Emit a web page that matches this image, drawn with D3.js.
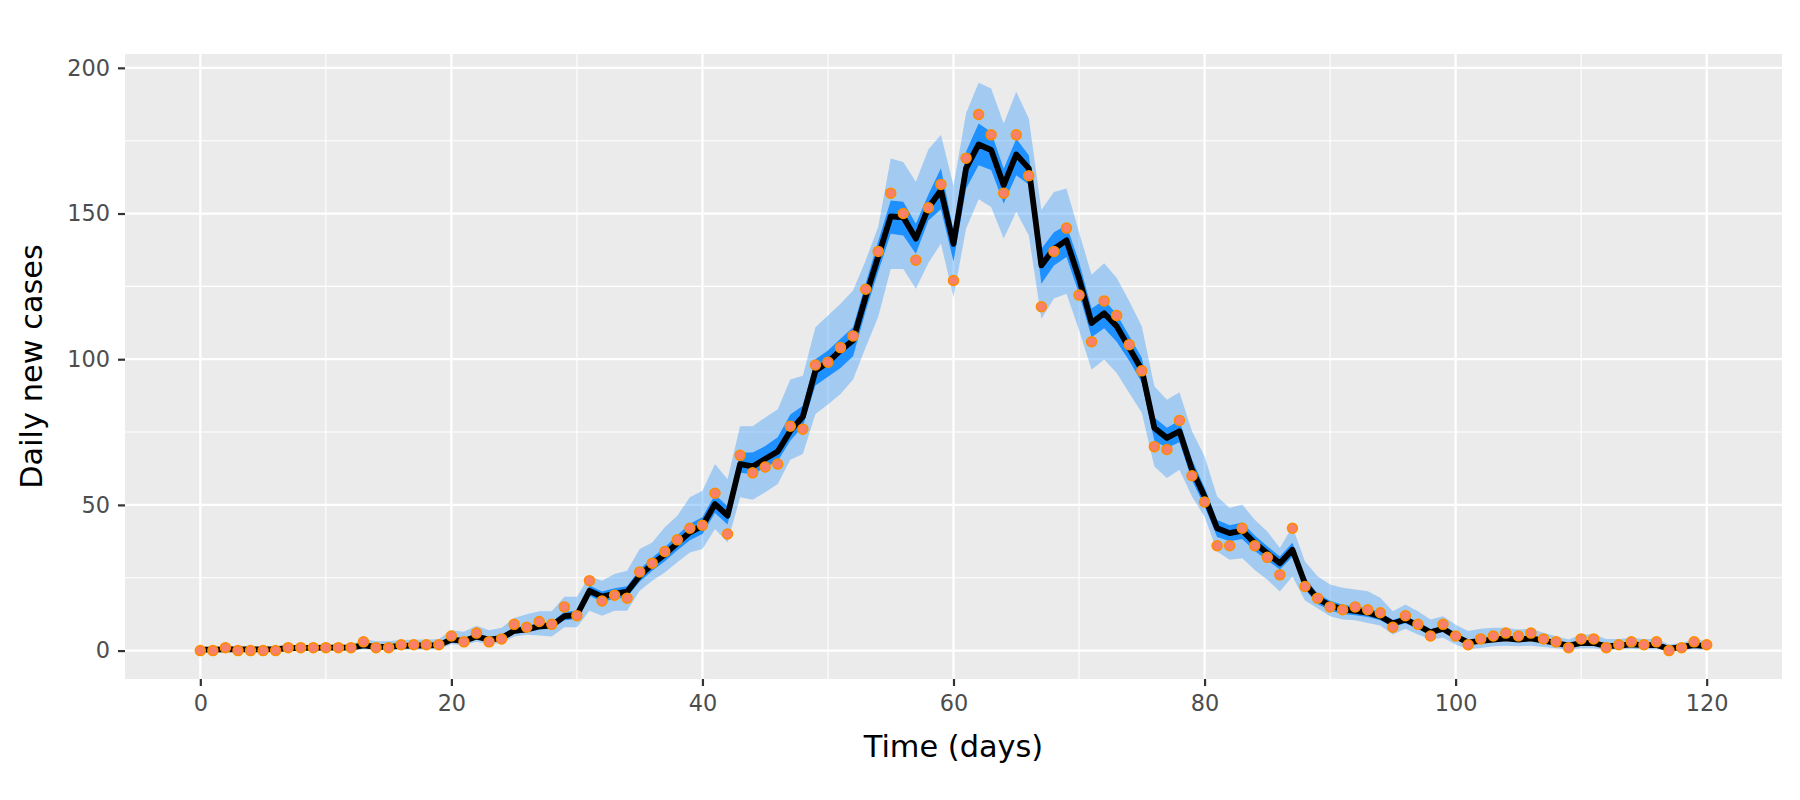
<!DOCTYPE html>
<html><head><meta charset="utf-8">
<script src="https://cdn.jsdelivr.net/npm/d3@7"></script>
<style>
body{margin:0;background:#fff;}
svg{display:block;font-family:"DejaVu Sans",sans-serif;}
</style>
</head><body>
<svg id="chart" width="1800" height="800"></svg>
<script>
// ---- data (index = day 0..120) ----
const xTicks = [0, 20, 40, 60, 80, 100, 120];
const xMinor = [10, 30, 50, 70, 90, 110];
const yTicks = [0, 50, 100, 150, 200];
const yMinor = [25, 75, 125, 175];

const observed = [0,0,1,0,0,0,0,1,1,1,1,1,1,3,1,1,2,2,2,2,
5,3,6,3,4,9,8,10,9,15,12,24,17,19,18,27,30,34,38,42,
43,54,40,67,61,63,64,77,76,98,99,104,108,124,137,157,150,134,152,160,
127,169,184,177,157,177,163,118,137,145,122,106,120,115,105,96,70,69,79,60,
51,36,36,42,36,32,26,42,22,18,15,14,15,14,13,8,12,9,5,9,
5,2,4,5,6,5,6,4,3,1,4,4,1,2,3,2,3,0,1,3,2];

const median = [0.3,0.3,0.4,0.4,0.4,0.4,0.5,0.8,0.9,0.9,1,1,1,1.8,1.3,1.3,1.6,1.7,1.8,1.9,
3.8,3.3,4.8,3.8,4.3,6.8,7.3,8.3,8.6,11.8,12.2,20.5,18.5,19.5,20.2,25.7,29.6,33,36.9,40.6,
42.8,50.3,46.3,64,63.2,65.8,68.3,75.4,80.3,96,99,103,106.5,121.4,135.2,149,148.7,141.4,152,158,
139.6,165.5,173.7,171.8,159.7,170.3,165.5,132.2,137.9,140.8,127.8,112.4,115.8,111.3,103.9,96.4,76.4,73,75.3,62.1,
52.9,42,40.3,41.2,36.9,33.4,30,34.6,23,17.8,15.5,14.2,13.6,13,11.8,9.3,10.7,8.6,6.3,7.5,
4.9,2.8,3.3,3.8,4.2,3.8,4.2,3.4,2.6,1.7,2.6,2.6,1.5,1.7,2.1,1.9,1.9,0.6,1.3,1.9,1.5];

const hi95 = [0.8,0.8,1.2,0.9,0.9,0.9,1,1.6,1.7,1.7,1.8,1.8,1.8,4,3.2,3.2,3.6,3.7,3.8,3.9,
7,6.5,8.5,7,7.8,11.2,12.5,13.5,13.5,18.5,18.5,25.5,24,26.3,27.4,34.9,37.1,42.3,46.3,52.6,
54.9,64,58.8,77,77,80,82.8,93,94.3,111,115,119,123.6,133.9,145.4,168.9,167.7,160.9,172,177,
159.5,184.4,194.9,192.9,180.9,191.8,182.6,151.2,157.4,158.6,143.6,129,132.9,128,119.9,111.3,90.7,86.1,88.7,75.3,
66.7,52.9,48.9,50.1,44.9,40.9,35.2,42.6,30.6,25.5,22.7,21.6,21,20.4,18.1,13.5,15.8,13.5,10.7,11.8,
8.9,6.7,7.5,7.8,7.8,7.2,7.5,6.1,4.9,3.8,5.5,5.5,4,4,4.4,4,4,2.1,2.6,4,3.2];

const lo95 = [0,0,0,0,0,0,0,0.2,0.2,0.2,0.2,0.2,0.2,0.5,0.3,0.3,0.4,0.4,0.5,0.5,
2.2,1.8,3,2.3,2.6,4.8,5.4,5.2,4.8,8,8,13.7,12,13.7,13.7,20.5,24,26.8,30.3,33.7,
34.9,41.7,37.1,52.6,51.8,54.3,57.2,65.5,67.5,81.2,84.5,88.1,93,104,114.5,131,131,124.2,133,139.7,
121.3,144.8,154.9,152.2,141.4,150.6,142.5,113.9,120.8,122.5,110,96.4,99.9,95.3,88.4,81.6,63.2,59.2,62.1,52.9,
46,34,31.2,31.7,27.7,24.3,20.3,25.4,17.2,14.5,11.8,10.7,10.4,9.5,8.6,5.5,7.5,5.5,3.8,4.4,
2.1,0.5,0.9,1.5,1.7,1.5,1.7,1.2,0.8,0.3,0.8,0.8,0.3,0.4,0.6,0.5,0.5,0,0.2,0.5,0.3];

const hi50 = [0.4,0.4,0.6,0.5,0.5,0.5,0.6,1,1.1,1.1,1.2,1.2,1.2,2.3,1.7,1.7,2,2.1,2.2,2.3,
4.6,4.1,5.7,4.6,5.2,7.9,8.5,9.5,9.8,13.3,13.7,22.3,20.3,21.4,22.1,27.9,31.9,35.5,39.6,43.5,
45.8,53.6,49.5,68,68,70.2,73.2,81,84,100,103,107,111,126,140.5,154.5,154,146.5,156.5,165.5,
144,171.2,180.9,178,165.4,175.7,170,137.9,143.6,146,133.4,117.4,120.3,115.5,108,100.5,80,76.5,79,65.5,
56,44.8,43,44,39.5,35.8,32.3,37,25,19.6,17.1,15.7,15.1,14.5,13.2,10.5,12,9.8,7.3,8.6,
5.8,3.5,4.1,4.6,5,4.6,5,4.2,3.3,2.3,3.3,3.3,2.1,2.3,2.7,2.5,2.5,0.9,1.8,2.5,2];

const lo50 = [0.1,0.1,0.2,0.2,0.2,0.2,0.3,0.5,0.6,0.6,0.7,0.7,0.7,1.3,1,1,1.2,1.3,1.4,1.5,
3,2.6,3.9,3,3.5,5.8,6.2,7.2,7.5,10.4,10.8,18.8,16.8,17.7,18.4,23.6,27.4,30.7,34.4,37.9,
40,47.2,43.3,61,60.5,62.8,65.1,72,77,91,94,97,101,116.5,130,143.1,142.5,136.2,147.6,151.5,
133.5,158.5,166.6,164.9,153.4,163.1,160,125.9,132.2,135.1,122.5,107.5,110.6,106,99.5,92,72,69.5,71.5,58.5,
49.5,39,37.5,38.3,34.2,31,27.8,32.2,21,16,13.8,12.6,12.1,11.5,10.4,8.1,9.4,7.4,5.3,6.4,
4,2.1,2.6,3.1,3.4,3.1,3.4,2.7,1.9,1.2,1.9,1.9,1,1.2,1.5,1.3,1.3,0.3,0.8,1.3,1];

// ---- layout ----
const svg = d3.select("#chart");
const P = {left: 125, right: 1782, top: 54, bottom: 679};
const x = d3.scaleLinear().domain([-6, 126]).range([P.left, P.right]);
const y = d3.scaleLinear().domain([-9.75, 204.75]).range([P.bottom, P.top]);

svg.append("rect").attr("width", 1800).attr("height", 800).attr("fill", "#fff");
svg.append("rect").attr("x", P.left).attr("y", P.top)
  .attr("width", P.right - P.left).attr("height", P.bottom - P.top).attr("fill", "#EBEBEB");

const grid = svg.append("g");
grid.selectAll(".xm").data(xMinor).join("line")
  .attr("x1", d => x(d)).attr("x2", d => x(d)).attr("y1", P.top).attr("y2", P.bottom)
  .attr("stroke", "#fff").attr("stroke-width", 1.1);
grid.selectAll(".ym").data(yMinor).join("line")
  .attr("y1", d => y(d)).attr("y2", d => y(d)).attr("x1", P.left).attr("x2", P.right)
  .attr("stroke", "#fff").attr("stroke-width", 1.1);
grid.selectAll(".xM").data(xTicks).join("line")
  .attr("x1", d => x(d)).attr("x2", d => x(d)).attr("y1", P.top).attr("y2", P.bottom)
  .attr("stroke", "#fff").attr("stroke-width", 2.2);
grid.selectAll(".yM").data(yTicks).join("line")
  .attr("y1", d => y(d)).attr("y2", d => y(d)).attr("x1", P.left).attr("x2", P.right)
  .attr("stroke", "#fff").attr("stroke-width", 2.2);

const idx = observed.map((_, i) => i);
const plot = svg.append("g");

const area = (lo, hi) => d3.area().x(i => x(i)).y0(i => y(lo[i])).y1(i => y(hi[i]));
plot.append("path").datum(idx).attr("d", area(lo95, hi95))
  .attr("fill", "#1E90FF").attr("fill-opacity", 0.35);
plot.append("path").datum(idx).attr("d", area(lo50, hi50))
  .attr("fill", "#1E90FF");

plot.append("path").datum(idx)
  .attr("d", d3.line().x(i => x(i)).y(i => y(median[i])))
  .attr("fill", "none").attr("stroke", "#000").attr("stroke-width", 5.8)
  .attr("stroke-linejoin", "round").attr("stroke-linecap", "butt");

plot.selectAll("circle").data(idx).join("circle")
  .attr("cx", i => x(i)).attr("cy", i => y(observed[i])).attr("r", 4.9)
  .attr("fill", "#F8806C").attr("stroke", "#FF8C00").attr("stroke-width", 1.7);

// ---- axes ----
const xAxis = svg.append("g").attr("transform", `translate(0,${P.bottom})`)
  .call(d3.axisBottom(x).tickValues(xTicks).tickSize(7).tickPadding(9));
const yAxis = svg.append("g").attr("transform", `translate(${P.left},0)`)
  .call(d3.axisLeft(y).tickValues(yTicks).tickSize(7).tickPadding(8));
[xAxis, yAxis].forEach(a => {
  a.select(".domain").remove();
  a.selectAll(".tick line").attr("stroke", "#333333").attr("stroke-width", 2.2);
  a.selectAll(".tick text").attr("fill", "#4D4D4D")
    .style("font-family", '"DejaVu Sans", sans-serif').style("font-size", "22.4px");
});

svg.append("text").attr("x", (P.left + P.right) / 2).attr("y", 757)
  .attr("text-anchor", "middle").attr("fill", "#000")
  .style("font-size", "30.4px").text("Time (days)");
svg.append("text").attr("transform", `translate(42,${(P.top + P.bottom) / 2}) rotate(-90)`)
  .attr("text-anchor", "middle").attr("fill", "#000")
  .style("font-size", "30.4px").text("Daily new cases");
</script>
</body></html>
